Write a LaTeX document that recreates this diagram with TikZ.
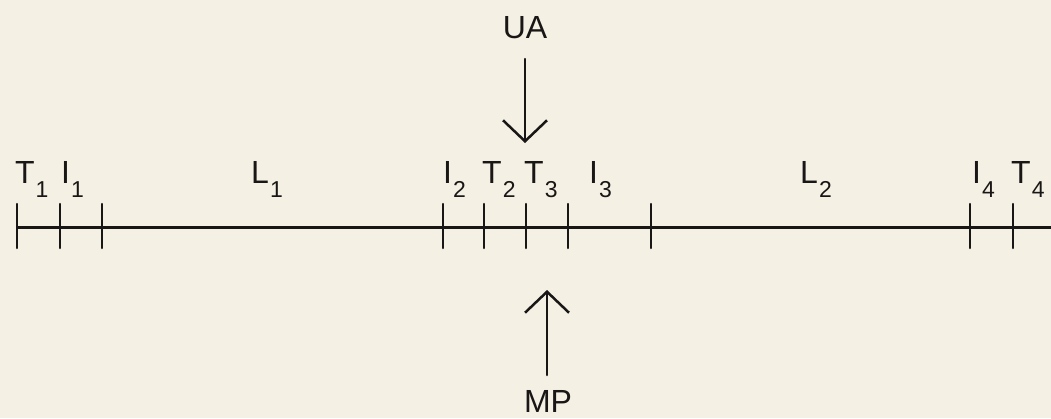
\documentclass[tikz,border=0pt]{standalone}
\usepackage{fontspec}
\setmainfont{Liberation Sans}
\usetikzlibrary{arrows.meta}
\definecolor{paper}{RGB}{244,240,228}
\definecolor{ink}{RGB}{25,22,22}
\newcommand{\lsub}[2]{#1\kern1pt\raisebox{-14pt}{\fontsize{23}{26}\selectfont #2}}

\begin{document}
\begin{tikzpicture}[x=1pt,y=-1pt,>={Straight Barb[length=21pt,width=44pt]},line cap=round,
  lbl/.style={anchor=base west,inner sep=0pt,text=ink,font=\fontsize{32}{36}\selectfont},
  tick/.style={ink,line width=2.5pt},
  pointer/.style={->,ink,line width=2.5pt}]
\fill[paper] (0,0) rectangle (1051,418);
\useasboundingbox (0,0) rectangle (1051,418);
\coordinate (lineA) at (17,227);
\coordinate (lineB) at (1051,227);
\draw[ink,line width=3pt,line cap=butt] (lineA) -- (lineB);
\draw[tick] (17,204) -- (17,248);
\draw[tick] (60,204) -- (60,248);
\draw[tick] (102,204) -- (102,248);
\draw[tick] (443,204) -- (443,248);
\draw[tick] (484,204) -- (484,248);
\draw[tick] (526,204) -- (526,248);
\draw[tick] (568,204) -- (568,248);
\draw[tick] (651,204) -- (651,248);
\draw[tick] (970,204) -- (970,248);
\draw[tick] (1013,204) -- (1013,248);
\node[lbl] (t1) at (15,183) {\lsub{T}{1}};
\node[lbl] (i1) at (61,183) {\lsub{I}{1}};
\node[lbl] (l1) at (251,183) {\lsub{L}{1}};
\node[lbl] (i2) at (443,183) {\lsub{I}{2}};
\node[lbl] (t2) at (482,183) {\lsub{T}{2}};
\node[lbl] (t3) at (524,183) {\lsub{T}{3}};
\node[lbl] (i3) at (589,183) {\lsub{I}{3}};
\node[lbl] (l2) at (800,183) {\lsub{L}{2}};
\node[lbl] (i4) at (972,183) {\lsub{I}{4}};
\node[lbl] (t4) at (1011,183) {\lsub{T}{4}};
\node[lbl,anchor=base] (ua) at (525,38) {UA};
\node[lbl,anchor=base] (mp) at (548,412) {MP};
\coordinate (uatail) at (525,59);
\coordinate (uatip) at (525,143);
\coordinate (mptail) at (547,375);
\coordinate (mptip) at (547,290);
\draw[pointer] (uatail) -- (uatip);
\draw[pointer] (mptail) -- (mptip);
\end{tikzpicture}
\end{document}
